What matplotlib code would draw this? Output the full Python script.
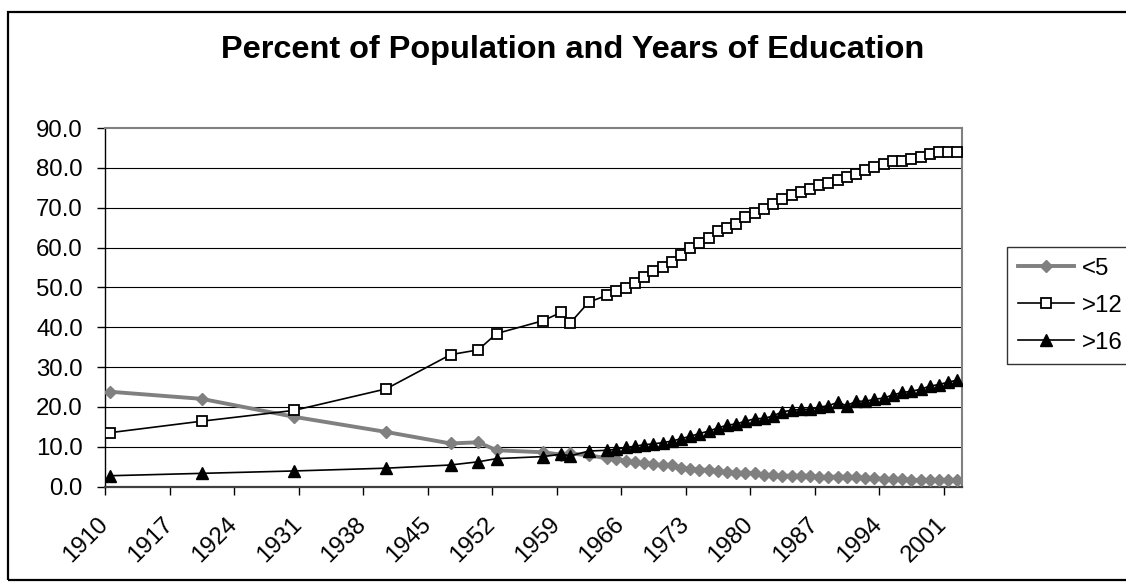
import matplotlib
matplotlib.use("Agg")
import matplotlib.pyplot as plt
from matplotlib.transforms import ScaledTranslation
from matplotlib.patches import Rectangle

plt.rcParams['font.family'] = ['Liberation Sans', 'DejaVu Sans']

years = [1910, 1920, 1930, 1940, 1947, 1950, 1952, 1957, 1959, 1960, 1962,
         1964, 1965, 1966, 1967, 1968, 1969, 1970, 1971, 1972, 1973,
         1974, 1975, 1976, 1977, 1978, 1979, 1980, 1981, 1982, 1983,
         1984, 1985, 1986, 1987, 1988, 1989, 1990, 1991, 1992, 1993,
         1994, 1995, 1996, 1997, 1998, 1999, 2000, 2001, 2002]

lt5 = [23.8, 22.0, 17.5, 13.7, 10.8, 11.1, 9.1, 8.6, 8.0, 8.3, 7.8,
       7.1, 6.8, 6.5, 6.1, 5.9, 5.6, 5.3, 5.5, 4.6, 4.5,
       4.2, 4.2, 3.8, 3.6, 3.4, 3.4, 3.4, 3.0, 2.8, 2.7,
       2.7, 2.7, 2.7, 2.4, 2.4, 2.5, 2.4, 2.4, 2.1, 2.1,
       1.9, 1.8, 1.8, 1.7, 1.6, 1.6, 1.6, 1.6, 1.6]

gt12 = [13.5, 16.4, 19.1, 24.5, 33.1, 34.3, 38.4, 41.6, 43.7, 41.1, 46.3,
        48.0, 49.0, 49.9, 51.1, 52.6, 54.0, 55.2, 56.4, 58.2, 59.8,
        61.2, 62.5, 64.1, 64.9, 65.9, 67.7, 68.6, 69.7, 71.0, 72.1,
        73.3, 73.9, 74.7, 75.6, 76.2, 76.9, 77.6, 78.4, 79.4, 80.2,
        80.9, 81.7, 81.7, 82.1, 82.8, 83.4, 84.1, 84.1, 84.1]

gt16 = [2.7, 3.3, 3.9, 4.6, 5.4, 6.2, 7.0, 7.5, 8.1, 7.7, 8.9,
        9.1, 9.4, 9.8, 10.1, 10.5, 10.7, 11.0, 11.4, 12.0, 12.6,
        13.3, 13.9, 14.7, 15.4, 15.7, 16.4, 17.0, 17.1, 17.7, 18.8,
        19.1, 19.4, 19.4, 19.9, 20.3, 21.1, 20.3, 21.4, 21.4, 21.9,
        22.2, 23.0, 23.6, 23.9, 24.4, 25.2, 25.6, 26.2, 26.7]

tick_labels = ["1910", "1917", "1924", "1931", "1938", "1945", "1952",
               "1959", "1966", "1973", "1980", "1987", "1994", "2001"]
series_names = ["<5", ">12", ">16"]
title = "Percent of Population and Years of Education"

W, H = 1126, 587
fig = plt.figure(figsize=(W / 100, H / 100), dpi=100)
fig.patch.set_facecolor('white')

# outer chart frame
fig.patches.append(Rectangle((8 / W, 1 - 580 / H), (1140 - 8) / W, (580 - 12) / H,
                             transform=fig.transFigure, fill=False,
                             edgecolor='black', linewidth=1.6))

ax = fig.add_axes([105 / W, 1 - 486.5 / H, (962 - 105) / W, (486.5 - 128) / H])

l1, = ax.plot(years, lt5, color='#808080', lw=2.8, marker='D', ms=6.4,
              mfc='#808080', mec='#808080', label=series_names[0], zorder=3)
l2, = ax.plot(years, gt12, color='black', lw=1.2, marker='s', ms=6.6,
              mfc='white', mec='black', mew=1.3, label=series_names[1], zorder=4)
l3, = ax.plot(years, gt16, color='black', lw=1.2, marker='^', ms=8.2,
              mfc='black', mec='black', label=series_names[2], zorder=5)

ax.set_xlim(1909.5, 2002.5)
ax.set_ylim(0, 90)
ax.set_yticks(range(0, 91, 10))
ax.set_yticklabels([f"{v:.1f}" for v in range(0, 91, 10)])
ax.set_xticks([1909.5 + 7 * k for k in range(len(tick_labels))])
ax.set_xticklabels(tick_labels, rotation=45, ha='right', va='center',
                   rotation_mode='anchor')
for lbl in ax.get_xticklabels():
    lbl.set_transform(lbl.get_transform() + ScaledTranslation(-0.16, 0, fig.dpi_scale_trans))

ax.tick_params(axis='y', direction='out', length=6, width=1, labelsize=17.3, pad=10, colors='black')
ax.tick_params(axis='x', direction='out', length=6, width=1, labelsize=17.3, pad=19, colors='black')

for y in range(10, 90, 10):
    ax.axhline(y, color='black', lw=0.8, zorder=1)

ax.spines['top'].set_color('#808080')
ax.spines['top'].set_linewidth(1.5)
ax.spines['right'].set_color('#808080')
ax.spines['right'].set_linewidth(1.5)
ax.spines['left'].set_color('black')
ax.spines['left'].set_linewidth(1.0)
ax.spines['bottom'].set_color('#404040')
ax.spines['bottom'].set_linewidth(1.6)

fig.text(573 / W, 1 - 50 / H, title, ha='center', va='center',
         fontsize=23.4, fontweight='bold')

leg = fig.legend(handles=[l1, l2, l3], loc='upper left',
                 bbox_to_anchor=(1007 / W, 1 - 247 / H), frameon=True,
                 fancybox=False, edgecolor='black', fontsize=17.3,
                 numpoints=1, handlelength=2.35, handletextpad=0.3,
                 labelspacing=0.62, borderpad=0.45, borderaxespad=0)
leg.get_frame().set_linewidth(1.0)

fig.savefig("out.png", dpi=100, facecolor='white')
